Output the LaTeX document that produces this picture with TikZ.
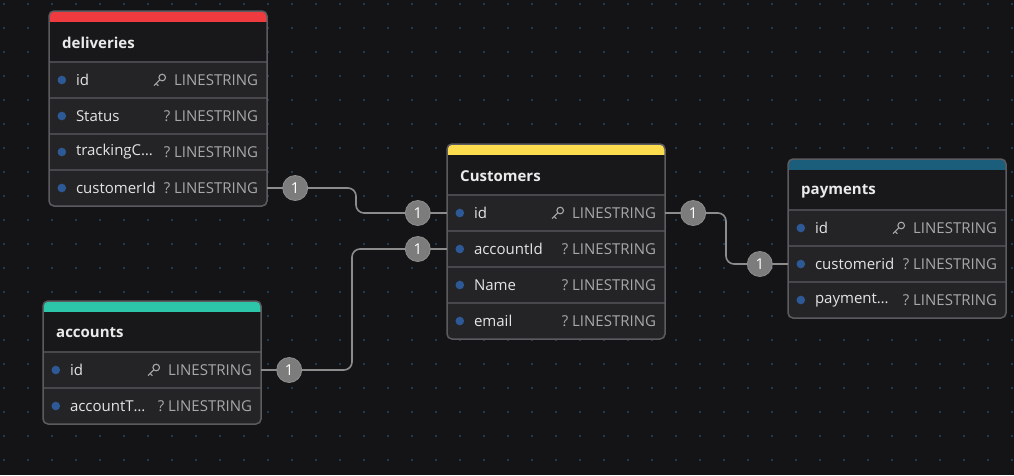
\documentclass[tikz,border=0pt]{standalone}
\usepackage{fontspec}
\setmainfont{Open Sans}
\usetikzlibrary{positioning,calc}
\definecolor{canvas}{HTML}{141417}
\definecolor{griddot}{HTML}{33648C}
\definecolor{tblhead}{HTML}{18181B}
\definecolor{tblrow}{HTML}{242427}
\definecolor{tblline}{HTML}{48484C}
\definecolor{tblborder}{HTML}{5C5C60}
\definecolor{fieldblue}{HTML}{2D5A96}
\definecolor{titletext}{HTML}{EAEAEA}
\definecolor{nametext}{HTML}{E4E4E4}
\definecolor{typetext}{HTML}{A8A8AA}
\definecolor{bandred}{HTML}{EF3B40}
\definecolor{bandyellow}{HTML}{FDDC4E}
\definecolor{bandteal}{HTML}{1B5E7B}
\definecolor{bandgreen}{HTML}{2EC6AA}
\definecolor{cardgray}{HTML}{7C7C7C}
\definecolor{cardedge}{HTML}{8E8E8E}
\definecolor{connline}{HTML}{8C8C8C}
\begin{document}
\begin{tikzpicture}[x=1pt,y=-1pt,
    tbltitle/.style={anchor=west,inner sep=0,text=titletext,font=\fontsize{15}{17}\selectfont\bfseries},
    fieldrow/.style={fill=tblrow,minimum width=218pt,minimum height=36pt,inner sep=0},
    fieldname/.style={anchor=west,inner sep=0,text=nametext,font=\fontsize{15}{17}\selectfont},
    fieldtype/.style={anchor=east,inner sep=0,text=typetext,font=\fontsize{15}{17}\selectfont},
    keyicon/.style={draw=typetext,line width=1.1pt,line cap=round},
    card/.style={circle,fill=cardgray,draw=cardedge,line width=0.8pt,minimum size=25pt,inner sep=0,text=white,font=\fontsize{15}{17}\selectfont},
    conn/.style={draw=connline,line width=1.6pt,rounded corners=8pt}]
  \fill[canvas] (0,0) rectangle (1014,475);
  \useasboundingbox (0,0) rectangle (1014,475);
  % dotted canvas
  \foreach \x in {4,28,...,1012}
    \foreach \y in {4,28,...,460}
      \fill[griddot] (\x,\y) circle (0.9);
  % tables
  \foreach \tb/\l/\t/\n/\col/\ttl/\rows in {
      deliv/49/11/4/bandred/deliveries/{id,Status,trackingC…,customerId},
      cust/447/144/4/bandyellow/Customers/{id,accountId,Name,email},
      pay/788/159/3/bandteal/payments/{id,customerid,payment…},
      acc/43/301/2/bandgreen/accounts/{id,accountT…}} {
    \pgfmathsetmacro\r{\l+218}
    \pgfmathsetmacro\b{\t+51+36*\n}
    \begin{scope}
      \clip[rounded corners=5pt] (\l,\t) rectangle (\r,\b);
      \fill[\col] (\l,\t) rectangle (\r,\t+11);
      \fill[tblhead] (\l,\t+11) rectangle (\r,\t+51);
      \node[tbltitle] (\tb) at (\l+13,\t+32) {\ttl};
      \foreach \nm [count=\i] in \rows {
        \node[fieldrow] (\tb-\i) at (\l+109,\t+33+36*\i) {};
        \draw[tblline,line width=1.5pt] (\tb-\i.north west) -- (\tb-\i.north east);
        \fill[fieldblue] ([xshift=13pt]\tb-\i.west) circle (4.3);
        \node[fieldname] at ([xshift=27pt]\tb-\i.west) {\nm};
        \node[fieldtype] at ([xshift=-9pt]\tb-\i.east) {\ifnum\i>1 ?~\fi LINESTRING};
      }
    \end{scope}
    % primary key
    \draw[keyicon] ([xshift=-105pt,yshift=2.5pt]\tb-1.east) circle (3.3);
    \draw[keyicon] ([xshift=-107.4pt,yshift=0.2pt]\tb-1.east) -- ([xshift=-113pt,yshift=-5.5pt]\tb-1.east)
      ([xshift=-111pt,yshift=-3.5pt]\tb-1.east) -- ([xshift=-109pt,yshift=-5.5pt]\tb-1.east);
    \draw[tblborder,line width=1.5pt,rounded corners=5pt] (\l,\t) rectangle (\r,\b);
  }
  % relations
  \coordinate (bendA) at (356,0);
  \coordinate (bendB) at (352,0);
  \coordinate (bendC) at (726,0);
  \draw[conn] (deliv-4.east) -- (deliv-4.east -| bendA) |- (cust-1.west);
  \draw[conn] (acc-1.east) -- (acc-1.east -| bendB) |- (cust-2.west);
  \draw[conn] (cust-1.east) -- (cust-1.east -| bendC) |- (pay-2.west);
  \node[card] (deliv-card) at ([xshift=28pt]deliv-4.east) {1};
  \node[card] (cust-card1) at ([xshift=-29pt]cust-1.west) {1};
  \node[card] (acc-card) at ([xshift=28pt]acc-1.east) {1};
  \node[card] (cust-card2) at ([xshift=-29pt]cust-2.west) {1};
  \node[card] (cust-card3) at ([xshift=28pt]cust-1.east) {1};
  \node[card] (pay-card) at ([xshift=-28pt]pay-2.west) {1};
\end{tikzpicture}
\end{document}
